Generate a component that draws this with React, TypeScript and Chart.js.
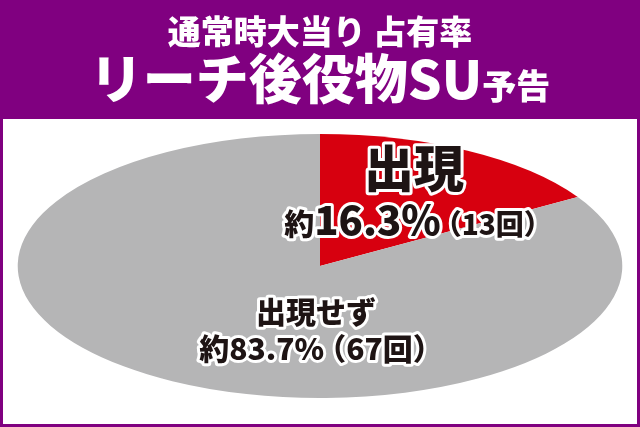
import React, { useEffect, useRef } from "react";
import { Chart, registerables } from "chart.js";

Chart.register(...registerables);

const categories = ["出現", "出現せず"];
const counts = [13, 67];
const percentLabels = ["16.3%", "83.7%"];
const titleLine1 = "通常時大当り 占有率";
const titleLine2Main = "リーチ後役物SU";
const titleLine2Small = "予告";

const PURPLE = "#800080";
const RED = "#d7000f";
const GRAY = "#b5b5b6";
const TEXT = "#1e1414";
const FONT = '"Noto Sans CJK JP", "Noto Sans", sans-serif';
const STRETCH = 2.29;

type Run = { text: string; size: number; kern?: number };

function drawRuns(ctx: CanvasRenderingContext2D, runs: Run[], cx: number, cy: number, color: string, stroke: string | null, weight = 900) {
  let total = 0;
  const widths: number[] = [];
  runs.forEach((r) => {
    ctx.font = `${weight} ${r.size}px ${FONT}`;
    const w = ctx.measureText(r.text).width;
    widths.push(w);
    total += w + (r.kern || 0);
  });
  ctx.textBaseline = "alphabetic";
  ctx.textAlign = "left";
  const maxSize = Math.max(...runs.map((r) => r.size));
  const baseline = cy + maxSize * 0.36;
  const pass = (doStroke: boolean) => {
    let x = cx - total / 2;
    runs.forEach((r, i) => {
      x += r.kern || 0;
      ctx.font = `${weight} ${r.size}px ${FONT}`;
      if (doStroke) {
        ctx.lineJoin = "round";
        ctx.lineWidth = 6;
        ctx.strokeStyle = stroke as string;
        ctx.strokeText(r.text, x, baseline);
      } else {
        ctx.fillStyle = color;
        ctx.fillText(r.text, x, baseline);
      }
      x += widths[i];
    });
  };
  if (stroke) pass(true);
  pass(false);
}

const framePlugin = {
  id: "frame",
  beforeDraw(chart: any) {
    const { ctx, width, height } = chart;
    ctx.save();
    ctx.fillStyle = PURPLE;
    ctx.fillRect(0, 0, width, height);
    ctx.fillStyle = "#ffffff";
    ctx.fillRect(3, 119, width - 6, height - 122);
    ctx.restore();
  },
  afterDraw(chart: any) {
    const { ctx, width } = chart;
    ctx.save();
    drawRuns(ctx, [{ text: titleLine1, size: 33 }], width / 2, 32, "#ffffff", null);
    drawRuns(ctx, [{ text: titleLine2Main, size: 53 }, { text: titleLine2Small, size: 34 }], width / 2, 80, "#ffffff", null);
    ctx.restore();
  },
};

const stretchPlugin = {
  id: "stretch",
  beforeDatasetsDraw(chart: any) {
    const arc = chart.getDatasetMeta(0).data[0];
    const { ctx } = chart;
    ctx.save();
    ctx.translate(arc.x, arc.y);
    ctx.scale(STRETCH, 1);
    ctx.translate(-arc.x, -arc.y);
  },
  afterDatasetsDraw(chart: any) {
    chart.ctx.restore();
    const arc = chart.getDatasetMeta(0).data[0];
    const cx = arc.x;
    const cy = arc.y;
    const ctx = chart.ctx;
    ctx.save();
    drawRuns(ctx, [{ text: categories[0], size: 50 }], cx + 94, cy - 97, TEXT, "#ffffff");
    drawRuns(
      ctx,
      [
        { text: "約", size: 30 },
        { text: percentLabels[0], size: 40 },
        { text: `（${counts[0]}回）`, size: 28, kern: -7 },
      ],
      cx + 98,
      cy - 45,
      TEXT,
      "#ffffff"
    );
    drawRuns(ctx, [{ text: categories[1], size: 30 }], cx - 4, cy + 46, TEXT, "#ffffff");
    drawRuns(
      ctx,
      [
        { text: `約${percentLabels[1]}`, size: 30 },
        { text: `（${counts[1]}回）`, size: 30, kern: -8 },
      ],
      cx + 1,
      cy + 83,
      TEXT,
      "#ffffff"
    );
    ctx.restore();
  },
};

export default function App() {
  const ref = useRef<HTMLCanvasElement>(null);
  useEffect(() => {
    if (!ref.current) return;
    const chart = new Chart(ref.current, {
      type: "pie",
      data: {
        labels: categories,
        datasets: [
          {
            data: counts,
            backgroundColor: [RED, GRAY],
            borderWidth: 0,
            hoverOffset: 0,
            offset: 0,
          },
        ],
      },
      options: {
        animation: false,
        responsive: true,
        maintainAspectRatio: false,
        events: [],
        layout: { padding: { top: 134, bottom: 29, left: 0, right: 0 } },
        plugins: { legend: { display: false }, tooltip: { enabled: false }, title: { display: false } },
      },
      plugins: [framePlugin, stretchPlugin],
    });
    return () => chart.destroy();
  }, []);
  return (
    <div style={{ position: "fixed", left: 0, top: 0, width: 640, height: 427 }}>
      <canvas ref={ref} />
    </div>
  );
}
